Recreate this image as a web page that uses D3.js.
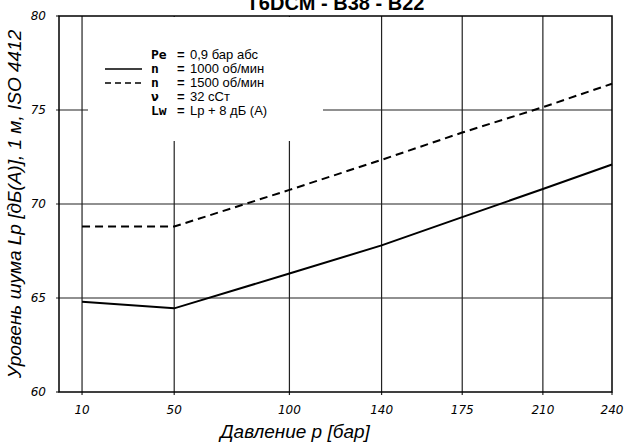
<!DOCTYPE html>
<html>
<head>
<meta charset="utf-8">
<script src="https://cdn.jsdelivr.net/npm/d3@7"></script>
<style>
  body { margin: 0; background: #fff; }
  svg { display: block; font-family: "Liberation Sans", Arial, sans-serif; }
</style>
</head>
<body>
<div id="viz"></div>
<script>
// pressure ticks, bar
var pressures = [10, 50, 100, 140, 175, 210, 240];
// noise level, dB(A)
var n1000 = [64.8, 64.45, 66.3, 67.8, 69.3, 70.8, 72.1];
var n1500 = [68.8, 68.8, 70.75, 72.35, 73.8, 75.15, 76.4];
var yTicks = [60, 65, 70, 75, 80];

var legendSymbols = ["Pe", "n", "n", "ν", "Lw"];
var legendValues = ["0,9 бар абс", "1000 об/мин", "1500 об/мин", "32 сСт", "Lp + 8 дБ (А)"];

var width = 626, height = 447;
var plot = { left: 59, right: 612, top: 16, bottom: 392 };

var svg = d3.select("#viz")
    .append("svg")
    .attr("width", width)
    .attr("height", height);

var x = d3.scaleLinear().domain([0, 240]).range([plot.left, plot.right]);
var y = d3.scaleLinear().domain([60, 80]).range([plot.bottom, plot.top]);

// grid
svg.append("g")
    .selectAll("line")
    .data(pressures.slice(0, -1))
    .enter()
    .append("line")
    .attr("x1", function (d) { return x(d); })
    .attr("x2", function (d) { return x(d); })
    .attr("y1", plot.top)
    .attr("y2", plot.bottom + 3)
    .style("stroke", "#222")
    .style("stroke-width", 1.2);

svg.append("g")
    .selectAll("line")
    .data(yTicks.slice(1, -1))
    .enter()
    .append("line")
    .attr("x1", plot.left - 3)
    .attr("x2", plot.right)
    .attr("y1", function (d) { return y(d); })
    .attr("y2", function (d) { return y(d); })
    .style("stroke", "#222")
    .style("stroke-width", 1.2);

// legend box covers the grid
svg.append("rect")
    .attr("x", 88)
    .attr("y", plot.top + 1)
    .attr("width", 235)
    .attr("height", 141 - plot.top - 1)
    .style("fill", "#fff");

// frame
svg.append("rect")
    .attr("x", plot.left)
    .attr("y", plot.top)
    .attr("width", plot.right - plot.left)
    .attr("height", plot.bottom - plot.top)
    .style("fill", "none")
    .style("stroke", "#000")
    .style("stroke-width", 1.5);

// small ticks at 60 / 80 and right edge
svg.append("line").attr("x1", plot.left - 3).attr("x2", plot.left).attr("y1", y(80)).attr("y2", y(80)).style("stroke", "#000");
svg.append("line").attr("x1", plot.left - 3).attr("x2", plot.left).attr("y1", y(60)).attr("y2", y(60)).style("stroke", "#000");
svg.append("line").attr("x1", x(240)).attr("x2", x(240)).attr("y1", plot.bottom).attr("y2", plot.bottom + 3).style("stroke", "#000");

// tick labels
svg.append("g")
    .selectAll("text")
    .data(yTicks)
    .enter()
    .append("text")
    .attr("x", plot.left - 13)
    .attr("y", function (d) { return y(d) + 4; })
    .style("text-anchor", "end")
    .style("font-family", "DejaVu Sans")
    .style("font-style", "italic")
    .style("font-size", "12px")
    .text(function (d) { return d; });

svg.append("g")
    .selectAll("text")
    .data(pressures)
    .enter()
    .append("text")
    .attr("x", function (d) { return x(d); })
    .attr("y", 414)
    .style("text-anchor", "middle")
    .style("font-family", "DejaVu Sans")
    .style("font-style", "italic")
    .style("font-size", "12px")
    .text(function (d) { return d; });

// curves
var line = d3.line()
    .x(function (d, i) { return x(pressures[i]); })
    .y(function (d) { return y(d); });

svg.append("path")
    .datum(n1000)
    .attr("d", line)
    .style("fill", "none")
    .style("stroke", "#000")
    .style("stroke-width", 2);

svg.append("path")
    .datum(n1500)
    .attr("d", line)
    .style("fill", "none")
    .style("stroke", "#000")
    .style("stroke-width", 2)
    .style("stroke-dasharray", "8,5");

// legend
var rowY = function (i) { return 59 + i * 14; };

svg.append("line")
    .attr("x1", 105).attr("x2", 142)
    .attr("y1", rowY(1) - 4).attr("y2", rowY(1) - 4)
    .style("stroke", "#000").style("stroke-width", 1.5);
svg.append("line")
    .attr("x1", 105).attr("x2", 142)
    .attr("y1", rowY(2) - 4).attr("y2", rowY(2) - 4)
    .style("stroke", "#000").style("stroke-width", 1.5)
    .style("stroke-dasharray", "6,4");

var lg = svg.append("g").selectAll("g")
    .data(legendValues)
    .enter()
    .append("g");

lg.append("text")
    .attr("x", 151)
    .attr("y", function (d, i) { return rowY(i); })
    .style("font-family", "DejaVu Sans Mono")
    .style("font-weight", "bold")
    .style("font-size", "13px")
    .text(function (d, i) { return legendSymbols[i]; });

lg.append("text")
    .attr("x", 177)
    .attr("y", function (d, i) { return rowY(i); })
    .style("font-size", "13px")
    .style("font-weight", "bold")
    .text("=");

lg.append("text")
    .attr("x", 190)
    .attr("y", function (d, i) { return rowY(i); })
    .style("font-size", "13px")
    .text(function (d) { return d; });

// title
svg.append("text")
    .attr("x", (plot.left + plot.right) / 2)
    .attr("y", 10)
    .style("text-anchor", "middle")
    .style("font-weight", "bold")
    .style("font-size", "20px")
    .text("T6DCM - B38 - B22");

// axis titles
svg.append("text")
    .attr("x", 295)
    .attr("y", 438)
    .style("text-anchor", "middle")
    .style("font-style", "italic")
    .style("font-size", "19px")
    .text("Давление p [бар]");

svg.append("text")
    .attr("transform", "translate(21," + ((plot.top + plot.bottom) / 2) + ") rotate(-90)")
    .style("text-anchor", "middle")
    .style("font-style", "italic")
    .style("font-size", "19px")
    .text("Уровень шума Lp [дБ(A)], 1 м, ISO 4412");
</script>
</body>
</html>
